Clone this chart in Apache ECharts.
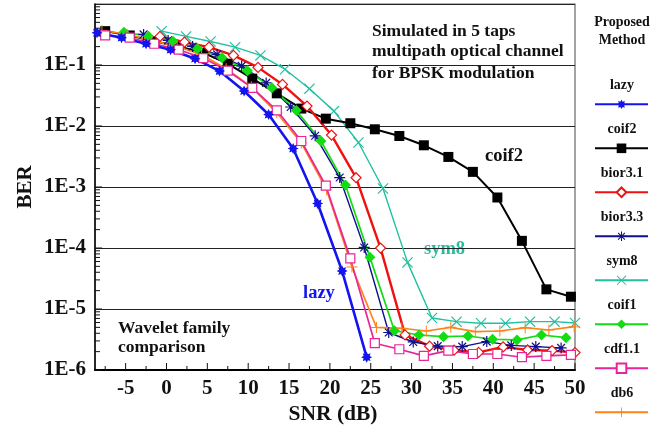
<!DOCTYPE html>
<html>
<head>
<meta charset="utf-8">
<script src="https://cdn.jsdelivr.net/npm/echarts@6/dist/echarts.min.js"></script>
<style>
html,body{margin:0;padding:0;background:#fff;}
#c{width:662px;height:432px;}
</style>
</head>
<body>
<div id="c"></div>
<script>
// ---------------- DATA ----------------
const seriesNames = ['lazy', 'coif2', 'bior3.1', 'bior3.3', 'sym8', 'coif1', 'cdf1.1', 'db6'];

const snrLazy = [-8.5, -5.5, -2.5, 0.5, 3.5, 6.5, 9.5, 12.5, 15.5, 18.5, 21.5, 24.5];
const berLazy = [0.338, 0.28, 0.223, 0.178, 0.127, 0.0794, 0.0374, 0.0154, 4.27e-3, 5.37e-4, 4.19e-5, 1.62e-6];

const snrCoif2 = [-7.5, -4.5, -1.5, 1.5, 4.5, 7.5, 10.5, 13.5, 16.5, 19.5, 22.5, 25.5, 28.5, 31.5, 34.5, 37.5, 40.5, 43.5, 46.5, 49.5];
const berCoif2 = [0.359, 0.305, 0.246, 0.201, 0.159, 0.105, 0.0597, 0.0343, 0.0193, 0.0132, 0.0111, 8.83e-3, 6.86e-3, 4.83e-3, 3.11e-3, 1.77e-3, 6.73e-4, 1.31e-4, 2.1e-5, 1.59e-5];

const snrBior31 = [-0.8, 2.2, 5.2, 8.2, 11.2, 14.2, 17.2, 20.2, 23.2, 26.2, 29.2, 32.2, 35.2, 38.2, 41.2, 44.2, 47.2, 50];
const berBior31 = [0.294, 0.237, 0.196, 0.1436, 0.0914, 0.0481, 0.0212, 7.1e-3, 1.42e-3, 9.96e-5, 3.76e-6, 2.46e-6, 2.11e-6, 1.94e-6, 2.39e-6, 2.13e-6, 2.08e-6, 1.93e-6];

const snrBior33 = [-2.8, 0.2, 3.2, 6.2, 9.2, 12.2, 15.2, 18.2, 21.2, 24.2, 27.2, 30.2, 33.2, 36.2, 39.2, 42.2, 45.2, 48.3];
const berBior33 = [0.317, 0.253, 0.2014, 0.149, 0.0967, 0.0509, 0.0205, 6.91e-3, 1.43e-3, 1.02e-4, 4.12e-6, 2.88e-6, 2.46e-6, 2.42e-6, 2.92e-6, 2.53e-6, 2.42e-6, 2.3e-6];

const snrSym8 = [-0.6, 2.4, 5.4, 8.4, 11.5, 14.5, 17.5, 20.5, 23.5, 26.5, 29.5, 32.5, 35.5, 38.5, 41.5, 44.5, 47.5, 50];
const berSym8 = [0.359, 0.294, 0.243, 0.196, 0.1436, 0.0853, 0.0409, 0.01754, 5.37e-3, 9.45e-4, 5.81e-5, 7.13e-6, 6.2e-6, 5.83e-6, 5.83e-6, 6.2e-6, 6.2e-6, 5.9e-6];

const snrCoif1 = [-5.2, -2.2, 0.8, 3.8, 6.8, 9.9, 12.9, 15.9, 18.9, 21.9, 24.9, 27.9, 30.9, 33.9, 36.9, 39.9, 42.9, 45.9, 48.9];
const berCoif1 = [0.345, 0.297, 0.246, 0.185, 0.1316, 0.0807, 0.0425, 0.01787, 5.68e-3, 1.08e-3, 7.02e-5, 4.41e-6, 3.75e-6, 3.52e-6, 3.61e-6, 3.19e-6, 3.11e-6, 3.75e-6, 3.39e-6];

const snrCdf11 = [-7.5, -4.5, -1.5, 1.5, 4.5, 7.5, 10.5, 13.5, 16.5, 19.5, 22.5, 25.5, 28.5, 31.5, 34.5, 37.5, 40.5, 43.5, 46.5, 49.5];
const berCdf11 = [0.305, 0.28, 0.223, 0.178, 0.1297, 0.0807, 0.0422, 0.0181, 5.68e-3, 1.05e-3, 6.76e-5, 2.75e-6, 2.19e-6, 1.7e-6, 2.08e-6, 1.83e-6, 1.83e-6, 1.62e-6, 1.7e-6, 1.77e-6];

const snrDb6 = [-7.9, -4.8, -1.8, 1.3, 4.3, 7.3, 10.4, 13.5, 16.5, 19.6, 22.7, 25.7, 28.8, 31.8, 34.8, 37.8, 40.8, 43.9, 46.8, 49.9];
const berDb6 = [0.368, 0.317, 0.253, 0.2, 0.149, 0.087, 0.0435, 0.01644, 5.27e-3, 9e-4, 4.87e-5, 4.98e-6, 4.83e-6, 4.36e-6, 5.01e-6, 4.25e-6, 4.36e-6, 4.94e-6, 4.53e-6, 5.13e-6];

const xTickLabels = [-5, 0, 5, 10, 15, 20, 25, 30, 35, 40, 45, 50];
const xMinorTicks = [-7.5, -2.5, 2.5, 7.5, 12.5, 17.5, 22.5, 27.5, 32.5, 37.5, 42.5, 47.5];
const yDecades = [1e-6, 1e-5, 1e-4, 1e-3, 1e-2, 1e-1, 1];
const yTickLabels = ['1E-6', '1E-5', '1E-4', '1E-3', '1E-2', '1E-1', ''];

// ---------------- STYLE ----------------
const X_MIN = -8.75, X_MAX = 50;
const FONT = '"Liberation Serif", "DejaVu Serif", serif';

function bar(angleDeg, len, w) {
  const a = angleDeg * Math.PI / 180, c = Math.cos(a), s = Math.sin(a);
  const pts = [[-len, -w], [len, -w], [len, w], [-len, w]].map(p => [p[0] * c - p[1] * s, p[0] * s + p[1] * c]);
  return 'M' + pts.map(p => p[0].toFixed(3) + ',' + p[1].toFixed(3)).join('L') + 'Z';
}
function starPath(n, R, r) {
  let d = '';
  for (let i = 0; i < 2 * n; i++) {
    const a = (i * Math.PI / n) - Math.PI / 2;
    const rad = i % 2 === 0 ? R : r;
    d += (i === 0 ? 'M' : 'L') + (rad * Math.cos(a)).toFixed(3) + ',' + (rad * Math.sin(a)).toFixed(3);
  }
  return d + 'Z';
}
const plusSym = 'path://' + bar(0, 10, 0.9) + bar(90, 10, 0.9);
const crossSym = 'path://' + bar(45, 10, 0.8) + bar(-45, 10, 0.8);
const asterSym = 'path://' + bar(0, 10, 1.1) + bar(90, 10, 1.1) + bar(45, 10, 1.1) + bar(-45, 10, 1.1);
const starSym = 'path://' + starPath(8, 10, 6);

const seriesStyle = {
  'lazy':    {snr: snrLazy,  ber: berLazy,  color: '#1414f0', width: 2.6, symbol: starSym,  size: 11},
  'coif2':   {snr: snrCoif2, ber: berCoif2, color: '#000000', width: 2,   symbol: 'rect',   size: 10},
  'bior3.1': {snr: snrBior31,ber: berBior31,color: '#f01010', width: 2.4, symbol: 'diamond', size: 10, hollow: true},
  'bior3.3': {snr: snrBior33,ber: berBior33,color: '#10108c', width: 1.4, symbol: asterSym, size: 11},
  'sym8':    {snr: snrSym8,  ber: berSym8,  color: '#22c0a0', width: 1.4, symbol: crossSym, size: 11},
  'coif1':   {snr: snrCoif1, ber: berCoif1, color: '#12dd12', width: 1.7, symbol: 'diamond', size: 11},
  'cdf1.1':  {snr: snrCdf11, ber: berCdf11, color: '#e8249a', width: 1.7, symbol: 'rect', size: 9, hollow: true},
  'db6':     {snr: snrDb6,   ber: berDb6,   color: '#ff8418', width: 1.7, symbol: plusSym,  size: 11}
};
const drawOrder = ['sym8', 'coif2', 'bior3.1', 'bior3.3', 'coif1', 'db6', 'cdf1.1', 'lazy'];

const lineSeries = drawOrder.map(name => {
  const s = seriesStyle[name];
  return {
    name: name, type: 'line', z: 3,
    data: s.snr.map((x, i) => [x, s.ber[i]]),
    symbol: s.symbol, symbolSize: s.size, showAllSymbol: true,
    lineStyle: {color: s.color, width: s.width},
    itemStyle: s.hollow ? {color: '#ffffff', borderColor: s.color, borderWidth: 1.2}
                        : {color: s.color, borderColor: s.color, borderWidth: 0},
    emphasis: {disabled: true}
  };
});

// tick marks drawn via axis scale (custom series)
const tickSeries = {
  type: 'custom', silent: true, z: 2, clip: false,
  data: [].concat(
    xTickLabels.map(v => [v, 1e-6, 0]),
    xMinorTicks.map(v => [v, 1e-6, 1]),
    yDecades.slice(0, 6).map(v => [X_MIN, v, 2]),
    (function () { const a = []; for (let d = 0; d < 6; d++) for (let m = 2; m <= 9; m++) a.push([X_MIN, m * yDecades[d], 3]); return a; })()
  ),
  renderItem: function (params, api) {
    const p = api.coord([api.value(0), api.value(1)]);
    const kind = api.value(2);
    let shape;
    if (kind === 0) shape = {x1: p[0], y1: p[1], x2: p[0], y2: p[1] - 7};
    else if (kind === 1) shape = {x1: p[0], y1: p[1], x2: p[0], y2: p[1] - 4};
    else if (kind === 2) shape = {x1: p[0], y1: p[1], x2: p[0] + 7, y2: p[1]};
    else shape = {x1: p[0], y1: p[1], x2: p[0] + 5, y2: p[1]};
    return {type: 'line', shape: shape, style: {stroke: '#111', lineWidth: 1}};
  }
};

// legend: one legend component per series, text via graphic
const legendTop0 = 104.3, legendStep = 44;
const legends = seriesNames.map((n, i) => ({
  data: [n], orient: 'vertical', left: 594, top: legendTop0 + legendStep * i - 6,
  itemWidth: 53, itemHeight: 12, padding: 0, itemGap: 0,
  formatter: () => '', selectedMode: false,
  textStyle: {fontSize: 1}
}));

function txt(x, y, s, size, opts) {
  return Object.assign({
    type: 'text', x: x, y: y, silent: true,
    style: Object.assign({text: s, font: 'bold ' + size + 'px ' + FONT, fill: '#111', textAlign: 'left', textVerticalAlign: 'middle'}, opts || {})
  });
}
const graphics = [
  txt(372, 31, 'Simulated in 5 taps', 17.5),
  txt(372, 51, 'multipath optical channel', 17.5),
  txt(372, 73, 'for BPSK modulation', 17.5),
  txt(485, 156, 'coif2', 18.5),
  txt(424, 249, 'sym8', 18.5, {fill: '#24bd9c'}),
  txt(303, 293, 'lazy', 18.5, {fill: '#1414f0'}),
  txt(118, 328, 'Wavelet family', 17.5),
  txt(118, 347, 'comparison', 17.5),
  txt(622, 22, 'Proposed', 14, {textAlign: 'center'}),
  txt(622, 40, 'Method', 14, {textAlign: 'center'}),
  txt(333, 414, 'SNR (dB)', 21.5, {textAlign: 'center'}),
  {type: 'text', x: 26, y: 187, rotation: Math.PI / 2, silent: true,
   style: {text: 'BER', font: 'bold 21px ' + FONT, fill: '#111', textAlign: 'center', textVerticalAlign: 'middle'}}
].concat(seriesNames.map((n, i) => txt(622, 85 + legendStep * i, n, 14, {textAlign: 'center'})));

const chart = echarts.init(document.getElementById('c'), null, {renderer: 'canvas'});
chart.setOption({
  animation: false,
  backgroundColor: '#fff',
  grid: {left: 95, right: 87, top: 4, bottom: 62, show: true, borderColor: '#666', borderWidth: 1.2, containLabel: false},
  xAxis: {
    type: 'value', min: X_MIN, max: X_MAX, interval: 1.25,
    axisLine: {show: true, onZero: false, lineStyle: {color: '#000', width: 2}},
    axisTick: {show: false}, splitLine: {show: false},
    axisLabel: {
      margin: 8, color: '#111', fontFamily: FONT, fontWeight: 'bold', fontSize: 21,
      formatter: v => (Math.abs(v % 5) < 1e-9 && xTickLabels.indexOf(v) >= 0) ? String(v) : ''
    }
  },
  yAxis: {
    type: 'log', logBase: 10, min: 1e-6, max: 1,
    axisLine: {show: true, onZero: false, lineStyle: {color: '#000', width: 1.5}},
    axisTick: {show: false},
    splitLine: {show: true, lineStyle: {color: '#222', width: 1.1}},
    minorTick: {show: false}, minorSplitLine: {show: false},
    axisLabel: {
      margin: 9, color: '#111', fontFamily: FONT, fontWeight: 'bold', fontSize: 21,
      formatter: v => { const k = yDecades.findIndex(d => Math.abs(Math.log10(d) - Math.log10(v)) < 1e-6); return k >= 0 ? yTickLabels[k] : ''; }
    }
  },
  legend: legends,
  graphic: graphics,
  series: [tickSeries].concat(lineSeries)
});
</script>
</body>
</html>
